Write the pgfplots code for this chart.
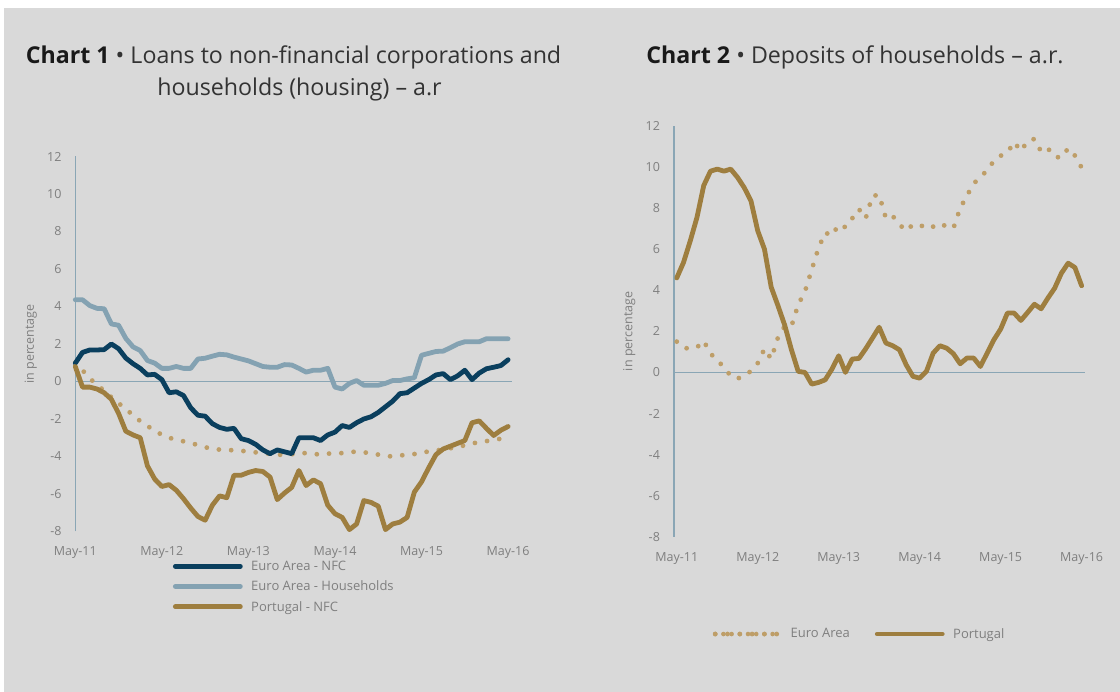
\documentclass[border=0pt]{standalone}
\usepackage{pgfplots}
\pgfplotsset{compat=1.18}
\usepackage{pgfplotstable}
\usepackage{fontspec}
\setmainfont{Open Sans}
\definecolor{bg}{HTML}{D9D9D9}
\definecolor{navy}{HTML}{0A3F5E}
\definecolor{lblue}{HTML}{84A2B2}
\definecolor{gold}{HTML}{9E7E3F}
\definecolor{dgold}{HTML}{BE9E68}
\definecolor{axcol}{HTML}{8AA6B5}
\definecolor{tickgray}{HTML}{7F7F7F}
\definecolor{titlecol}{HTML}{333333}

\pgfplotstableread{
m nfc hh pt ea
0 0.98 4.36 0.8 1.0
1 1.55 4.36 -0.3 0.6
2 1.68 4.05 -0.3 0.17
3 1.68 3.9 -0.4 -0.18
4 1.7 3.88 -0.6 -0.49
5 2.0 3.07 -0.95 -0.84
6 1.75 3.0 -1.7 -1.16
7 1.25 2.3 -2.65 -1.46
8 0.95 1.85 -2.85 -1.8
9 0.7 1.65 -3.0 -2.11
10 0.35 1.12 -4.5 -2.38
11 0.38 0.98 -5.2 -2.6
12 0.1 0.7 -5.6 -2.85
13 -0.6 0.7 -5.5 -3.0
14 -0.55 0.8 -5.8 -3.11
15 -0.75 0.7 -6.25 -3.19
16 -1.4 0.7 -6.75 -3.28
17 -1.8 1.2 -7.2 -3.39
18 -1.85 1.24 -7.4 -3.5
19 -2.25 1.35 -6.6 -3.61
20 -2.45 1.45 -6.1 -3.63
21 -2.55 1.42 -6.2 -3.65
22 -2.5 1.3 -5.0 -3.67
23 -3.05 1.2 -5.0 -3.7
24 -3.15 1.1 -4.85 -3.73
25 -3.35 0.95 -4.75 -3.78
26 -3.65 0.8 -4.8 -3.82
27 -3.85 0.76 -5.1 -3.85
28 -3.65 0.76 -6.3 -3.9
29 -3.75 0.9 -5.95 -3.92
30 -3.85 0.88 -5.65 -3.88
31 -3.0 0.7 -4.75 -3.82
32 -3.0 0.5 -5.55 -3.82
33 -3.0 0.6 -5.25 -3.86
34 -3.15 0.6 -5.45 -3.9
35 -2.85 0.7 -6.6 -3.85
36 -2.7 -0.3 -7.05 -3.82
37 -2.35 -0.4 -7.25 -3.82
38 -2.45 -0.1 -7.9 -3.78
39 -2.2 0.05 -7.6 -3.73
40 -2.0 -0.2 -6.35 -3.78
41 -1.88 -0.2 -6.45 -3.82
42 -1.65 -0.2 -6.65 -3.9
43 -1.35 -0.1 -7.9 -3.97
44 -1.05 0.05 -7.6 -4.0
45 -0.65 0.05 -7.5 -3.95
46 -0.6 0.14 -7.25 -3.9
47 -0.35 0.2 -5.9 -3.87
48 -0.1 1.4 -5.35 -3.8
49 0.1 1.5 -4.6 -3.73
50 0.35 1.6 -3.9 -3.68
51 0.42 1.62 -3.6 -3.63
52 0.1 1.8 -3.45 -3.56
53 0.3 2.0 -3.3 -3.5
54 0.6 2.12 -3.15 -3.4
55 0.1 2.12 -2.2 -3.3
56 0.45 2.12 -2.1 -3.24
57 0.68 2.28 -2.5 -3.18
58 0.76 2.28 -2.88 -3.12
59 0.85 2.28 -2.6 -3.05
60 1.16 2.28 -2.4 -3.0
}\loans

\pgfplotstableread{
m ea pt
0 1.5 4.6
1 1.2 5.35
2 1.15 6.4
3 1.22 7.55
4 1.54 9.1
5 0.9 9.8
6 0.65 9.9
7 0.2 9.8
8 -0.15 9.9
9 -0.32 9.5
10 -0.1 9.0
11 0.05 8.35
12 0.45 6.9
13 1.15 6.0
14 0.66 4.15
15 1.7 3.25
16 2.25 2.3
17 2.25 1.1
18 3.3 0.05
19 3.94 0.0
20 5.0 -0.57
21 6.05 -0.49
22 6.81 -0.36
23 6.66 0.16
24 7.2 0.81
25 7.07 0.0
26 7.5 0.65
27 7.95 0.68
28 7.5 1.15
29 8.6 1.67
30 8.64 2.2
31 7.5 1.43
32 7.62 1.3
33 7.2 1.1
34 6.9 0.37
35 7.2 -0.19
36 7.2 -0.28
37 7.0 0.05
38 7.1 0.94
39 7.26 1.3
40 7.1 1.18
41 7.02 0.91
42 8.0 0.42
43 8.6 0.7
44 9.2 0.7
45 9.5 0.29
46 9.85 0.94
47 10.3 1.59
48 10.55 2.11
49 10.7 2.89
50 11.22 2.89
51 10.78 2.53
52 11.27 2.92
53 11.37 3.32
54 10.75 3.1
55 10.91 3.62
56 10.5 4.1
57 10.46 4.83
58 10.91 5.32
59 10.56 5.11
60 9.97 4.22
}\deposits

\pgfplotsset{
  mystyle/.style={
    scale only axis, clip=false,
    ymin=-8, ymax=12, ytick={-8,-6,...,12},
    xtick={0,12,24,36,48,60},
    xticklabels={May-11,May-12,May-13,May-14,May-15,May-16},
    axis x line*=bottom, axis y line*=left,
    x axis line style={draw=none},
    y axis line style={-, draw=axcol, line width=1.6pt},
    major tick length=0pt,
    /pgf/number format/assume math mode=true,
    tick label style={font=\fontsize{12.5}{14}\selectfont, text=tickgray},
    xticklabel style={anchor=base, yshift=-24.5pt},
    yticklabel style={anchor=east, inner sep=0pt, xshift=-13.6pt},
    ylabel={in percentage},
    every axis y label/.style={at={(axis description cs:0,0.5)}, rotate=90, anchor=center, yshift=44.5pt, font=\fontsize{12.5}{14}\selectfont, text=tickgray},
    legend cell align=left,
    legend image code/.code={\draw[##1] (0pt,0pt) -- (65pt,0pt);},
  },
  solidl/.style={line width=4.8pt, line cap=round, line join=round},
  dotl/.style={dgold, line width=4.8pt, line cap=round, dash pattern=on 0pt off 12.3pt},
  dotleg/.style={legend image code/.code={\draw[dgold, line width=4.6pt, line cap=round, dash pattern=on 0pt off 8.2pt] (0pt,0pt) -- (57.5pt,0pt); \path (0pt,0pt) -- (64.5pt,0pt);}},
}

\begin{document}
\begin{tikzpicture}[x=1pt,y=1pt]
\fill[white] (0,0) rectangle (1120,692);
\fill[bg] (3.5,0) rectangle (1120,684);
\node[anchor=base, font=\fontsize{23.2}{26}\selectfont, text=titlecol, inner sep=0pt] at (293.5,628) {{\color{black!90}\textbf{Chart 1}} • Loans to non-financial corporations and};
\node[anchor=base, font=\fontsize{23.2}{26}\selectfont, text=titlecol, inner sep=0pt] at (299.5,596) {households (housing) – a.r};
\node[anchor=base, font=\fontsize{23.2}{26}\selectfont, text=titlecol, inner sep=0pt] at (855,628) {{\color{black!90}\textbf{Chart 2}} • Deposits of households – a.r.};

\begin{axis}[mystyle,
  at={(75.3pt,160.5pt)}, anchor=south west,
  width=436.4pt, height=375pt,
  xmin=0, xmax=60.5,
  legend style={draw=none, fill=none, at={(axis description cs:0.2233,-0.1472)}, anchor=west,
    inner sep=0pt, font=\fontsize{13}{15}\selectfont, text=tickgray, row sep=5pt,
    /tikz/every odd column/.append style={column sep=6.5pt}},
]
\draw[axcol, line width=1.6pt] (axis cs:0,0) -- (axis cs:60.5,0);
\addplot[dotl, forget plot] table[x=m, y=ea] {\loans};
\addplot[solidl, navy] table[x=m, y=nfc] {\loans};
\addlegendentry{Euro Area - NFC}
\addplot[solidl, lblue] table[x=m, y=hh] {\loans};
\addlegendentry{Euro Area - Households}
\addplot[solidl, gold] table[x=m, y=pt] {\loans};
\addlegendentry{Portugal - NFC}
\end{axis}

\begin{axis}[mystyle,
  at={(673.7pt,155.3pt)}, anchor=south west,
  width=411.3pt, height=410.7pt,
  xmin=-0.45, xmax=60.5,
  legend columns=-1,
  legend style={draw=none, fill=none, at={(axis description cs:0.0946,-0.237)}, anchor=west,
    inner sep=0pt, font=\fontsize{13}{15}\selectfont, text=tickgray,
    /tikz/every odd column/.append style={column sep=6.5pt},
    /tikz/every even column/.append style={column sep=23pt}},
]
\draw[axcol, line width=1.6pt] (axis cs:-0.45,0) -- (axis cs:60.5,0);
\addplot[dotl, dotleg] table[x=m, y=ea] {\deposits};
\addlegendentry{Euro Area}
\addplot[solidl, gold] table[x=m, y=pt] {\deposits};
\addlegendentry{Portugal}
\end{axis}
\end{tikzpicture}
\end{document}
